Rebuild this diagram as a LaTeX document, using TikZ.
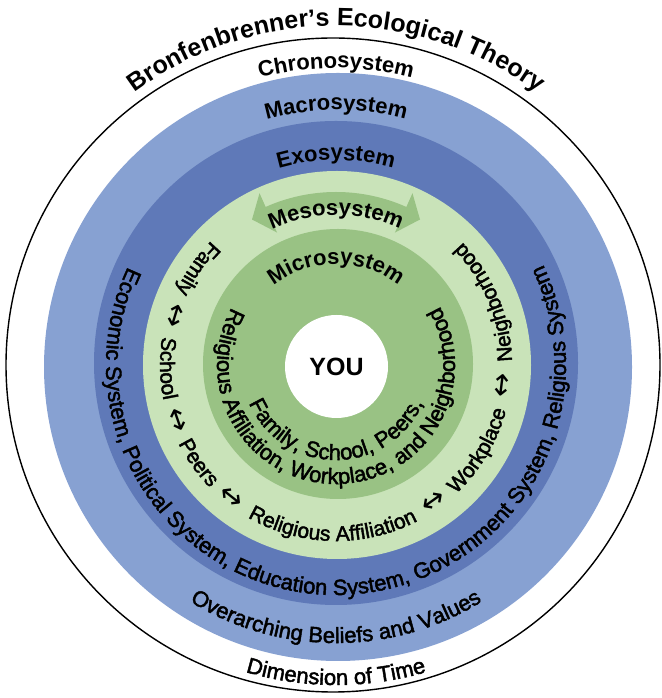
\documentclass[tikz,border=0pt]{standalone}
\usepackage{fontspec}
\setmainfont{Liberation Sans}
\newfontfamily\medfont{Liberation Sans}[FakeBold=2]
\newfontfamily\arrowfont{DejaVu Sans}
\usetikzlibrary{decorations.text}
\definecolor{lblue}{RGB}{135,161,210}
\definecolor{dblue}{RGB}{95,121,184}
\definecolor{lgreen}{RGB}{201,227,185}
\definecolor{dgreen}{RGB}{153,194,132}
\newcommand\fR{\medfont\fontsize{22}{26}\selectfont}
\newcommand\fM{\medfont\fontsize{21}{25}\selectfont}
\newcommand\fB{\fontsize{22}{26}\selectfont\bfseries}
\newcommand\fT{\fontsize{25}{30}\selectfont\bfseries}
% clockwise arc centred at the top: radius, half span, font, text
\newcommand\TopText[4]{%
  \path[decorate,decoration={text along path,text align=center,text={|#3|#4}}]
    ({90+#2}:#1) arc[start angle={90+#2},end angle={90-#2},radius=#1];}
% counter-clockwise arc: centre angle, radius, half span, font, text
\newcommand\CcwText[5]{%
  \path[decorate,decoration={text along path,text align=center,text={|#4|#5}}]
    ({#1-#3}:#2) arc[start angle={#1-#3},end angle={#1+#3},radius=#2];}
\tikzset{
  mesoarrow/.style={fill=dgreen},
  linkarrow/.style={font=\arrowfont\fontsize{29}{29}\selectfont,inner sep=0pt},
  centre/.style={font=\fT,inner sep=0pt}
}
\begin{document}
\begin{tikzpicture}[x=1pt,y=1pt]
\useasboundingbox (0,0) rectangle (661,698);
\fill[white] (0,0) rectangle (661,698);
% rings
\draw[line width=1.4pt,fill=white] (333,333) circle[radius=327];
\fill[lblue] (338,331) circle[radius=294];
\fill[dblue] (336,335) circle[radius=242];
\fill[lgreen] (337,333) circle[radius=194];
\begin{scope}[shift={(336,333)}]
  % mesosystem double arrow
  \fill[mesoarrow] (120:168) -- (114:188) -- (114:173)
     arc[start angle=114,end angle=66,radius=173]
     -- (66:188) -- (60:168) -- (66:145) -- (66:157)
     arc[start angle=66,end angle=114,radius=157]
     -- (114:145) -- cycle;
\end{scope}
\fill[dgreen] (338,334) circle[radius=135];
\fill[white] (336.5,331.5) circle[radius=51.5];
\begin{scope}[shift={(336,333)}]
  \node[centre] (you) at (0.5,-2) {YOU};
  % top labels
  \TopText{339}{55}{\fT}{Bronfenbrenner’s Ecological Theory}
  \TopText{297}{40}{\fB}{Chronosystem}
  \TopText{255}{40}{\fB}{Macrosystem}
  \TopText{205}{40}{\fB}{Exosystem}
  \TopText{150}{40}{\fB}{Mesosystem}
  \TopText{101}{60}{\fB}{Microsystem}
  % bottom labels
  \CcwText{270}{320}{40}{\fR}{Dimension of Time}
  \CcwText{270}{278}{60}{\fR}{Overarching Beliefs and Values}
  \CcwText{270.3}{230}{125}{\fR}{Economic System, Political System, Education System, Government System, Religious System}
  % microsystem contents
  \CcwText{270}{95}{100}{\fR}{Family, School, Peers,}
  \CcwText{270.3}{119}{150}{\fR}{Religious Affiliation, Workplace, and Neighborhood}
  % mesosystem links
  \CcwText{145.2}{176}{30}{\fM}{Family}
  \CcwText{181.2}{176}{30}{\fM}{School}
  \CcwText{215.4}{176}{30}{\fM}{Peers}
  \CcwText{268.8}{176}{40}{\fM}{Religious Affiliation}
  \CcwText{329}{176}{30}{\fM}{Workplace}
  \CcwText{382.7}{176}{30}{\fM}{Neighborhood}
  \foreach \a/\n in {163/la,199.2/lb,231.7/lc,305.5/ld,353/le}
    \node[linkarrow,rotate=\a+90] (\n) at (\a:169) {↔};
\end{scope}
\end{tikzpicture}
\end{document}
